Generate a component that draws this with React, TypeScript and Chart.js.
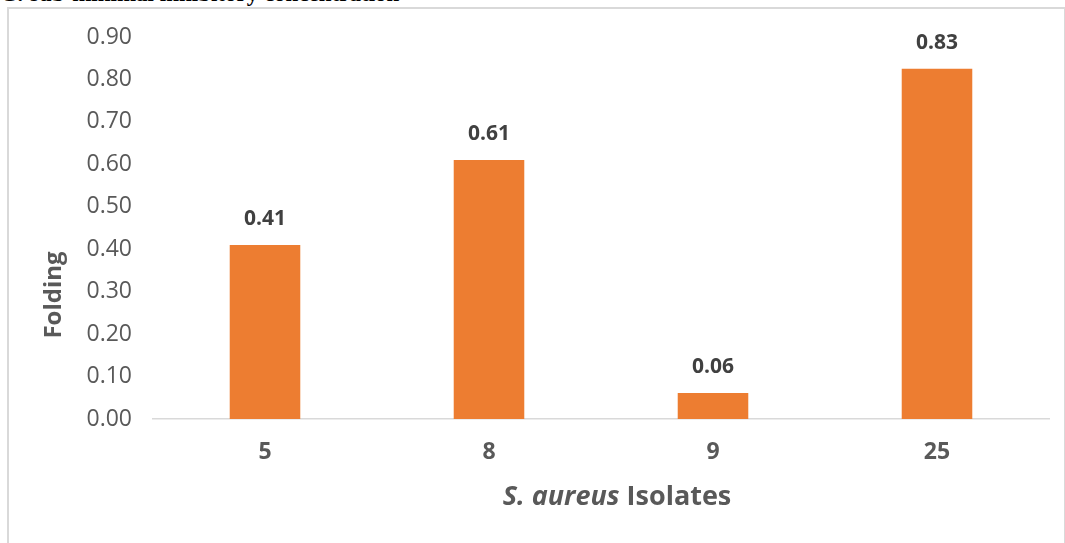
import React, { useEffect, useRef } from "react";
import { Chart, registerables } from "chart.js";

Chart.register(...registerables);

const categories = ["5", "8", "9", "25"];
const foldingValues = [0.41, 0.61, 0.061, 0.825];
const dataLabels = ["0.41", "0.61", "0.06", "0.83"];
const yTickValues = [0, 0.1, 0.2, 0.3, 0.4, 0.5, 0.6, 0.7, 0.8, 0.9];

const FONT = "'Open Sans', 'Noto Sans', sans-serif";

const customText = {
  id: "customText",
  afterDatasetsDraw(chart: any) {
    const ctx = chart.ctx;
    const meta = chart.getDatasetMeta(0);
    ctx.save();
    ctx.fillStyle = "#404040";
    ctx.font = `bold 21px ${FONT}`;
    ctx.textAlign = "center";
    ctx.textBaseline = "middle";
    meta.data.forEach((bar: any, i: number) => {
      ctx.fillText(dataLabels[i], bar.x, bar.y - 26);
    });
    ctx.restore();
  },
  afterDraw(chart: any) {
    const ctx = chart.ctx;
    ctx.save();
    ctx.fillStyle = "#595959";
    ctx.textBaseline = "middle";
    const part1 = "S. aureus";
    const part2 = " Isolates";
    ctx.font = `italic bold 27px ${FONT}`;
    const w1 = ctx.measureText(part1).width;
    ctx.font = `bold 27px ${FONT}`;
    const w2 = ctx.measureText(part2).width;
    const cx = 617;
    const cy = 497;
    const x = cx - (w1 + w2) / 2;
    ctx.textAlign = "left";
    ctx.font = `italic bold 27px ${FONT}`;
    ctx.fillText(part1, x, cy);
    ctx.font = `bold 27px ${FONT}`;
    ctx.fillText(part2, x + w1, cy);
    ctx.translate(54, 295);
    ctx.rotate(-Math.PI / 2);
    ctx.textAlign = "center";
    ctx.font = `bold 24px ${FONT}`;
    ctx.fillText("Folding", 0, 0);
    ctx.restore();
  },
};

export default function App() {
  const canvasRef = useRef<HTMLCanvasElement | null>(null);

  useEffect(() => {
    if (!canvasRef.current) return;
    const chart = new Chart(canvasRef.current, {
      type: "bar",
      data: {
        labels: categories,
        datasets: [
          {
            label: "Folding",
            data: foldingValues,
            backgroundColor: "#ED7D31",
            borderWidth: 0,
            categoryPercentage: 1,
            barPercentage: 0.315,
          },
        ],
      },
      options: {
        animation: false,
        responsive: true,
        maintainAspectRatio: false,
        layout: { padding: { top: 37, right: 16, left: 0, bottom: 0 } },
        plugins: {
          legend: { display: false },
          tooltip: { enabled: false },
          title: { display: false },
        },
        scales: {
          x: {
            afterFit: (s: any) => {
              s.height = 124;
            },
            grid: { display: false, drawTicks: false },
            border: { display: true, color: "#D9D9D9", width: 1.5 },
            ticks: {
              color: "#595959",
              font: { family: FONT, size: 23, weight: "bold" },
              padding: 20,
            },
          },
          y: {
            min: 0,
            max: 0.9,
            afterFit: (s: any) => {
              s.width = 153;
            },
            afterBuildTicks: (s: any) => {
              s.ticks = yTickValues.map((v) => ({ value: v }));
            },
            grid: { display: false, drawTicks: false },
            border: { display: false },
            ticks: {
              color: "#595959",
              font: { family: FONT, size: 23 },
              padding: 21,
              callback: (v: any) => Number(v).toFixed(2),
            },
          },
        },
      },
      plugins: [customText],
    });
    return () => chart.destroy();
  }, []);

  return (
    <div
      style={{
        position: "fixed",
        left: 0,
        top: 0,
        width: 1065,
        height: 543,
        overflow: "hidden",
        background: "#fff",
      }}
    >
      <div
        style={{
          position: "absolute",
          left: 0,
          top: -19,
          fontFamily: "'Liberation Serif', 'Times New Roman', serif",
          fontWeight: "bold",
          fontSize: 23,
          whiteSpace: "nowrap",
          color: "#000",
        }}
      >
        C: sub-minimal inhibitory concentration
      </div>
      <div
        style={{
          position: "absolute",
          left: 7,
          top: 7,
          width: 1055,
          height: 600,
          borderLeft: "2px solid #D9D9D9",
          borderTop: "2px solid #D9D9D9",
          borderRight: "2px solid #D9D9D9",
        }}
      />
      <div style={{ position: "absolute", left: 0, top: 0, width: 1065, height: 543 }}>
        <canvas ref={canvasRef} />
      </div>
    </div>
  );
}
